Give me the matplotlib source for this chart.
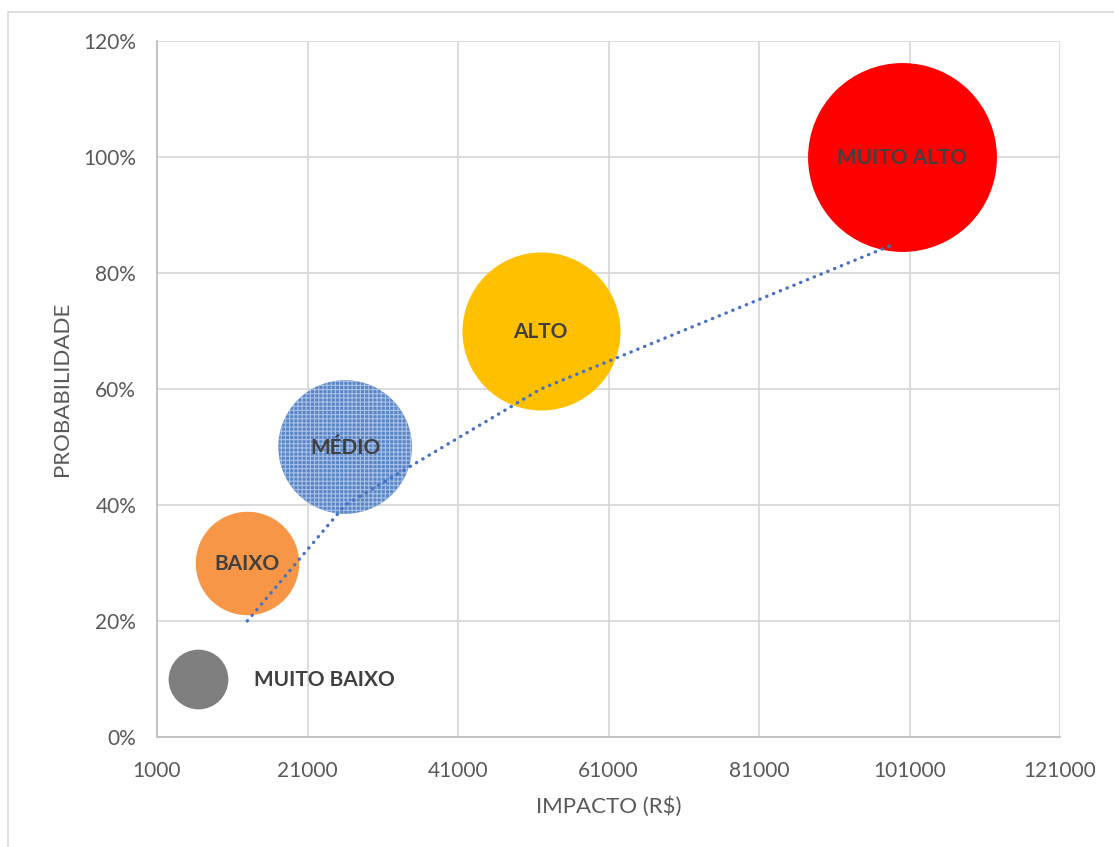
import numpy as np
import matplotlib
matplotlib.use("Agg")
from matplotlib import pyplot as plt
from matplotlib.patches import Rectangle
from matplotlib.ticker import FuncFormatter

# dados
niveis = ['MUITO BAIXO', 'BAIXO', 'MÉDIO', 'ALTO', 'MUITO ALTO']
impacto = [6500, 13000, 26000, 52000, 100000]
probabilidade = [0.10, 0.30, 0.50, 0.70, 1.00]
tamanho = [10, 30, 50, 70, 100]
cores = ['#7F7F7F', '#F79646', '#5A86C8', '#FFC000', '#FF0000']

tend_x = [13000, 26000, 52000, 99000]
tend_y = [0.20, 0.40, 0.60, 0.85]

x_ticks = [1000, 21000, 41000, 61000, 81000, 101000, 121000]
y_ticks = [0, 0.2, 0.4, 0.6, 0.8, 1.0, 1.2]

plt.rcParams['font.family'] = ['Lato', 'DejaVu Sans']
plt.rcParams['hatch.linewidth'] = 0.8

fig = plt.figure(figsize=(11.14, 8.47), dpi=100)
ax = fig.add_axes([157/1114, 1-737/847, (1060-157)/1114, (737-41)/847])

# moldura do grafico
fig.patches.append(Rectangle((8/1114, -0.05), 1.1, 1-12/847+0.05, transform=fig.transFigure,
                             fill=False, edgecolor='#D9D9D9', linewidth=1.2))

s_scale = 185
for i, nome in enumerate(niveis):
    if nome == 'MÉDIO':
        ax.scatter(impacto[i], probabilidade[i], s=tamanho[i]*s_scale, facecolor=cores[i],
                   edgecolor='#A9C1E6', linewidth=0, hatch='++++', zorder=3)
    else:
        ax.scatter(impacto[i], probabilidade[i], s=tamanho[i]*s_scale, color=cores[i],
                   linewidth=0, zorder=3)
    if nome == 'MUITO BAIXO':
        ax.text(impacto[i] + 7400, probabilidade[i] - 0.002, nome, ha='left', va='center',
                fontsize=15, fontweight='bold', color='#404040', zorder=5)
    else:
        ax.text(impacto[i], probabilidade[i] - 0.002, nome, ha='center', va='center',
                fontsize=15, fontweight='bold', color='#404040', zorder=5)

ax.plot(tend_x, tend_y, color='#4472C4', linewidth=2.4, linestyle=(0, (0.1, 2.1)),
        dash_capstyle='round', zorder=4)

ax.set_xlim(1000, 121000)
ax.set_ylim(0, 1.2)
ax.set_xticks(x_ticks)
ax.set_yticks(y_ticks)
ax.yaxis.set_major_formatter(FuncFormatter(lambda v, p: '{:.0f}%'.format(v*100)))
ax.grid(True, color='#D9D9D9', linewidth=1.3, zorder=0)
ax.set_axisbelow(True)
for k in ['top', 'right']:
    ax.spines[k].set_visible(False)
for k in ['left', 'bottom']:
    ax.spines[k].set_color('#BFBFBF')
    ax.spines[k].set_linewidth(1.3)
ax.tick_params(length=0, labelsize=15, labelcolor='#595959')
ax.tick_params(axis='y', pad=15)
ax.tick_params(axis='x', pad=17)

ax.set_xlabel('IMPACTO (R$)', fontsize=16, color='#595959', labelpad=11)
ax.set_ylabel('PROBABILIDADE', fontsize=16, color='#595959', labelpad=8)

fig.savefig('out.png', dpi=100)
